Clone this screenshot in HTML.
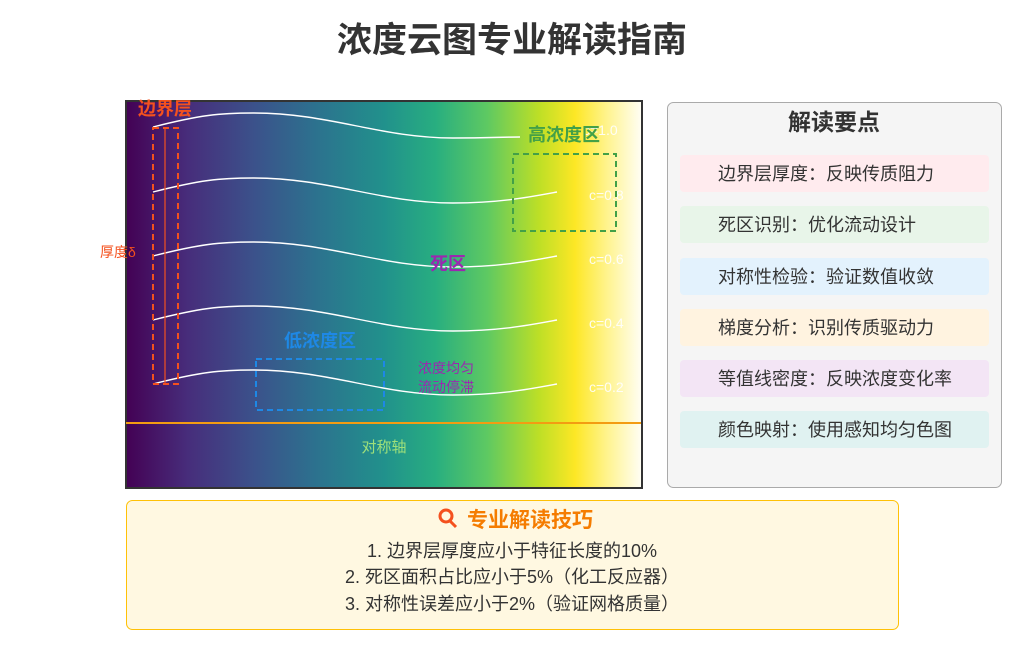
<!DOCTYPE html>
<html><head><meta charset="utf-8"><style>
body{margin:0;background:#fff;width:1024px;height:640px;overflow:hidden}
svg text{font-family:"Liberation Sans","Noto Sans CJK SC",sans-serif}
</style></head><body>
<svg width="1024" height="640" viewBox="0 0 1024 640" xmlns="http://www.w3.org/2000/svg">
<defs>
<linearGradient id="v" x1="0" x2="1" y1="0" y2="0">
<stop offset="0" stop-color="#440154"/>
<stop offset="0.12" stop-color="#472d7b"/>
<stop offset="0.25" stop-color="#3b528b"/>
<stop offset="0.37" stop-color="#2c728e"/>
<stop offset="0.5" stop-color="#21918c"/>
<stop offset="0.6" stop-color="#28ae80"/>
<stop offset="0.7" stop-color="#5ec962"/>
<stop offset="0.8" stop-color="#bddf26"/>
<stop offset="0.87" stop-color="#fde725"/>
<stop offset="0.93" stop-color="#fff38a"/>
<stop offset="1" stop-color="#fffef6"/>
</linearGradient>
</defs>
<text x="512" y="52" text-anchor="middle" font-size="35" font-weight="bold" fill="#333">浓度云图专业解读指南</text>
<rect x="126" y="101" width="516" height="387" fill="url(#v)" stroke="#333" stroke-width="2"/>
<g fill="none" stroke="#fff" stroke-width="1.4">
<path d="M153,127 C200,115 220,113 253,113 C330,113 380,138 453,138 C490,138 500,137 520,137"/>
<path d="M153,192 C200,180 220,178 253,178 C330,178 380,203 453,203 C500,203 530,197 557,192"/>
<path d="M153,256 C200,244 220,242 253,242 C330,242 380,267 453,267 C500,267 530,261 557,256"/>
<path d="M153,320 C200,308 220,306 253,306 C330,306 380,331 453,331 C500,331 530,325 557,320"/>
<path d="M153,384 C200,372 220,370 253,370 C330,370 380,395 453,395 C500,395 530,389 557,384"/>
</g>
<g fill="#fff" font-size="14" opacity="0.9">
<text x="583" y="135">c=1.0</text><text x="589" y="200">c=0.8</text><text x="589" y="264">c=0.6</text><text x="589" y="328">c=0.4</text><text x="589" y="392">c=0.2</text>
</g>
<line x1="126" y1="423" x2="641" y2="423" stroke="#f39c12" stroke-width="2"/>
<text x="384" y="452" text-anchor="middle" font-size="15" fill="#9ee07a">对称轴</text>
<rect x="153" y="128" width="25" height="256" fill="none" stroke="#f4511e" stroke-width="2" stroke-dasharray="6,4"/>
<line x1="165" y1="128" x2="165" y2="384" stroke="#f4511e" stroke-width="1.2"/>
<text x="165" y="115" text-anchor="middle" font-size="18" font-weight="bold" fill="#f4511e">边界层</text>
<text x="100" y="257" font-size="14" fill="#f4511e">厚度δ</text>
<rect x="513" y="154" width="103" height="77" fill="none" stroke="#43a047" stroke-width="2" stroke-dasharray="6,4"/>
<text x="564" y="141" text-anchor="middle" font-size="18" font-weight="bold" fill="#43a047">高浓度区</text>
<rect x="256" y="359" width="128" height="51" fill="none" stroke="#1e88e5" stroke-width="2" stroke-dasharray="6,4"/>
<text x="320" y="347" text-anchor="middle" font-size="18" font-weight="bold" fill="#1e88e5">低浓度区</text>
<text x="448" y="270" text-anchor="middle" font-size="18" font-weight="bold" fill="#9c27b0">死区</text>
<text x="418" y="373" font-size="14" fill="#9c27b0">浓度均匀</text>
<text x="418" y="392" font-size="14" fill="#9c27b0">流动停滞</text>
<rect x="667.5" y="102.5" width="334" height="385" rx="6" fill="#f5f5f5" stroke="#aaa"/>
<text x="834" y="130" text-anchor="middle" font-size="23" font-weight="bold" fill="#333">解读要点</text>
<g font-size="18" fill="#333">
<rect x="680" y="155" width="309" height="37" rx="4" fill="#ffebee"/><text x="718" y="180">边界层厚度：反映传质阻力</text>
<rect x="680" y="206" width="309" height="37" rx="4" fill="#e8f5e9"/><text x="718" y="231">死区识别：优化流动设计</text>
<rect x="680" y="258" width="309" height="37" rx="4" fill="#e3f2fd"/><text x="718" y="283">对称性检验：验证数值收敛</text>
<rect x="680" y="309" width="309" height="37" rx="4" fill="#fff3e0"/><text x="718" y="334">梯度分析：识别传质驱动力</text>
<rect x="680" y="360" width="309" height="37" rx="4" fill="#f3e5f5"/><text x="718" y="385">等值线密度：反映浓度变化率</text>
<rect x="680" y="411" width="309" height="37" rx="4" fill="#e0f2f1"/><text x="718" y="436">颜色映射：使用感知均匀色图</text>
</g>
<rect x="126.5" y="500.5" width="772" height="129" rx="6" fill="#fff8e1" stroke="#ffc107"/>
<circle cx="446" cy="516" r="6" fill="none" stroke="#f4511e" stroke-width="3"/>
<line x1="450" y1="521" x2="456" y2="527" stroke="#f4511e" stroke-width="3"/>
<text x="530" y="527" text-anchor="middle" font-size="21" font-weight="bold" fill="#f57c00">专业解读技巧</text>
<g font-size="18" fill="#333" text-anchor="middle">
<text x="512" y="557">1. 边界层厚度应小于特征长度的10%</text>
<text x="512" y="583">2. 死区面积占比应小于5%（化工反应器）</text>
<text x="512" y="610">3. 对称性误差应小于2%（验证网格质量）</text>
</g>
</svg>
</body></html>
